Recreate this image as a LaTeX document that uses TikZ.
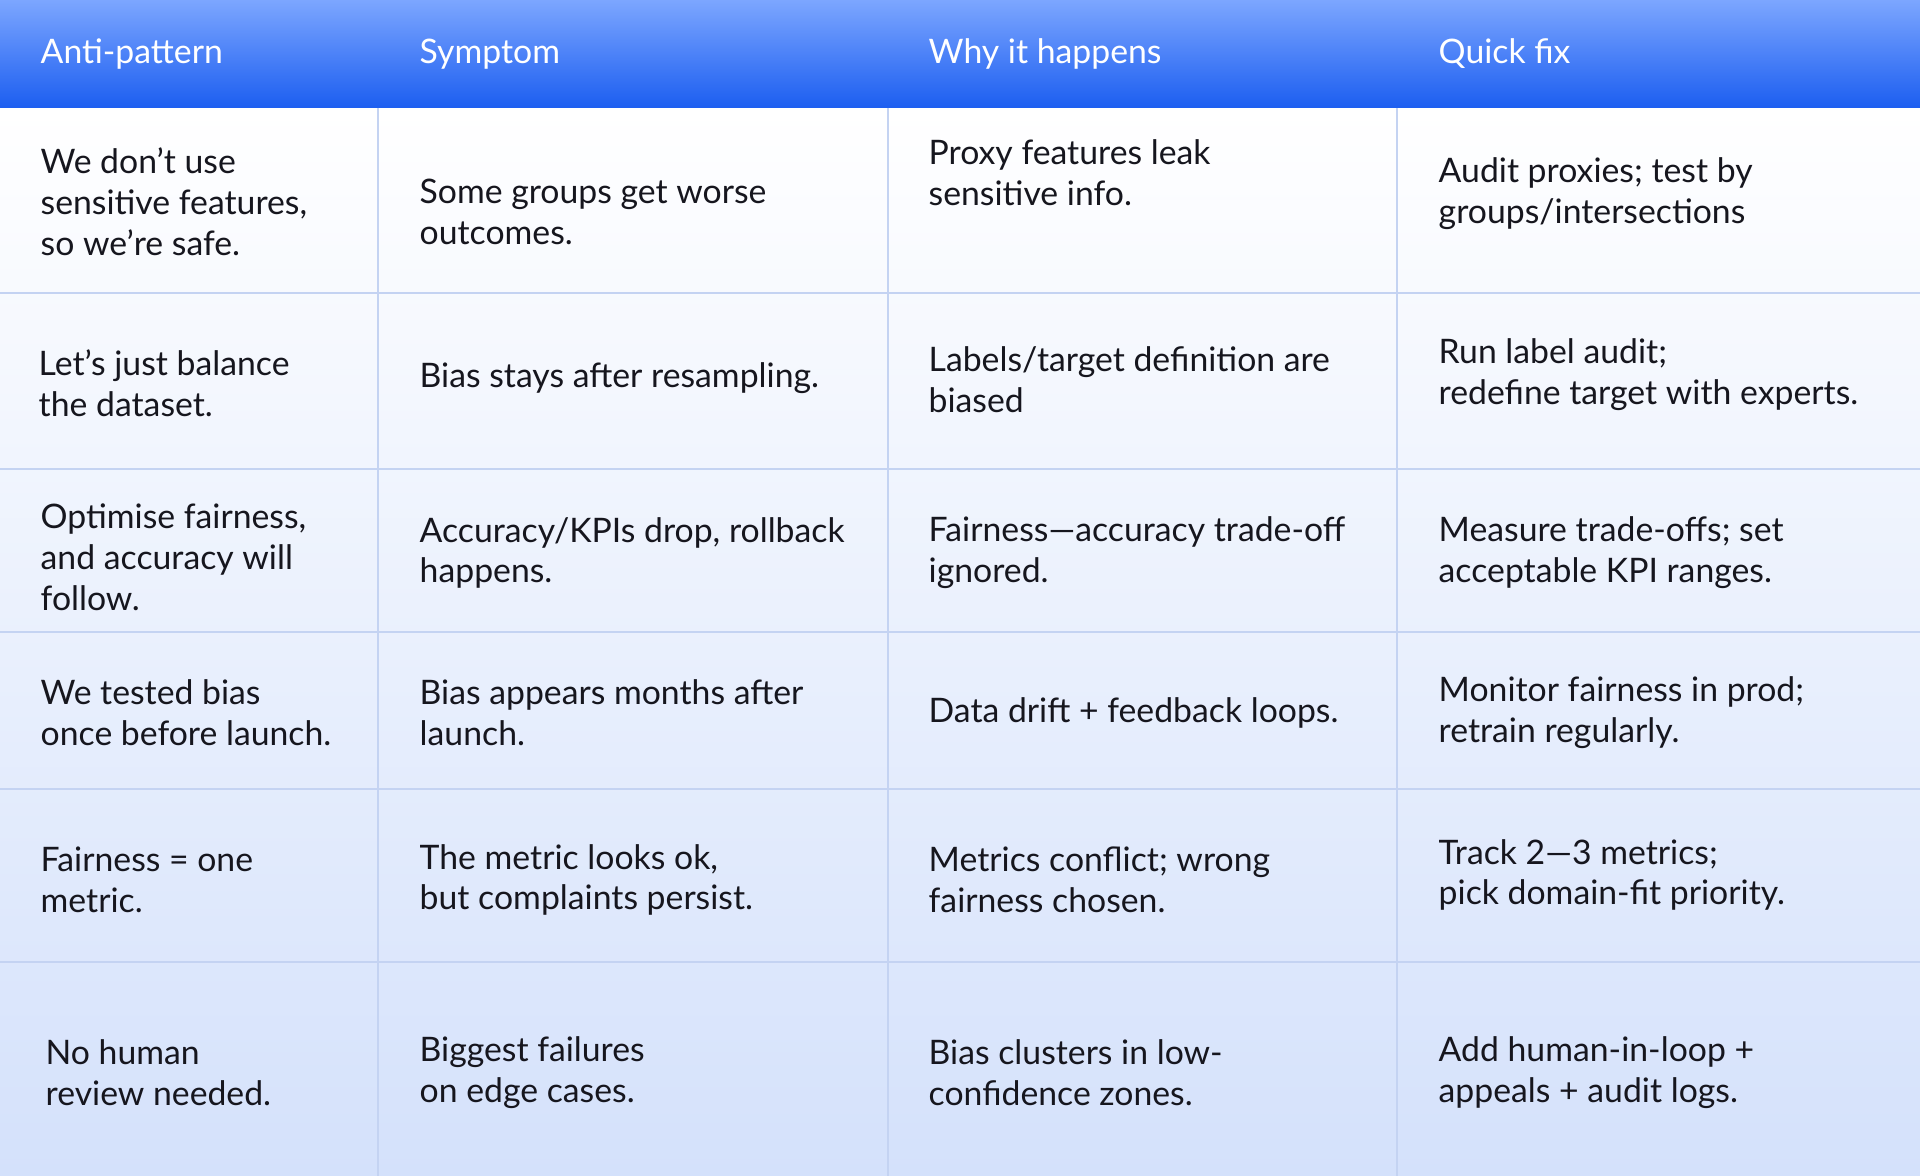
\documentclass[tikz,border=0pt]{standalone}
\usepackage{fontspec}
\setmainfont{Lato}
\begin{document}
\begin{tikzpicture}[x=0.01cm,y=-0.01cm]
    \definecolor{hdtop}{RGB}{124,166,255}
    \definecolor{hdbot}{RGB}{28,94,240}
    \definecolor{bdbot}{RGB}{212,225,251}
    \definecolor{gridln}{RGB}{196,211,242}
    \definecolor{txt}{RGB}{22,22,30}
    \tikzset{cell/.style={anchor=west,align=left,inner sep=0pt,text=txt,font=\fontsize{9.6}{11.6}\selectfont},
             head/.style={anchor=west,inner sep=0pt,text=white,font=\fontsize{9.6}{11.6}\selectfont}}
    \useasboundingbox (0,0) rectangle (1920,1176);
    \shade[top color=white,bottom color=bdbot] (0,108) rectangle (1920,1176);
    \shade[top color=hdtop,bottom color=hdbot] (0,0) rectangle (1920,108);
    % grid
    \foreach \y in {293,469,632,789,962} \draw[gridln,line width=0.6pt] (0,\y) to (1920,\y);
    \foreach \x in {378,888,1397} \draw[gridln,line width=0.6pt] (\x,108) to (\x,1176);
    % header
    \node[head] (h1) at (40,54) {Anti-pattern};
    \node[head] (h2) at (419,54) {Symptom};
    \node[head] (h3) at (928,54) {Why it happens};
    \node[head] (h4) at (1438,54) {Quick fix};
    % row 1
    \node[cell] (a1) at (40,202) {We don’t use\\sensitive features,\\so we’re safe.};
    \node[cell] (b1) at (419,212) {Some groups get worse\\outcomes.};
    \node[cell] (c1) at (928,173) {Proxy features leak\\sensitive info.};
    \node[cell] (d1) at (1438,194) {Audit proxies; test by\\groups/intersections};
    % row 2
    \node[cell] (a2) at (38,383) {Let’s just balance\\the dataset.};
    \node[cell] (b2) at (419,378) {Bias stays after resampling.};
    \node[cell] (c2) at (928,380) {Labels/target definition are\\biased};
    \node[cell] (d2) at (1438,375) {Run label audit;\\redefine target with experts.};
    % row 3
    \node[cell] (a3) at (40,557) {Optimise fairness,\\and accuracy will\\follow.};
    \node[cell] (b3) at (419,553) {Accuracy/KPIs drop, rollback\\happens.};
    \node[cell] (c3) at (928,553) {Fairness—accuracy trade-off\\ignored.};
    \node[cell] (d3) at (1438,553) {Measure trade-offs; set\\acceptable KPI ranges.};
    % row 4
    \node[cell] (a4) at (40,713) {We tested bias\\once before launch.};
    \node[cell] (b4) at (419,713) {Bias appears months after\\launch.};
    \node[cell] (c4) at (928,713) {Data drift + feedback loops.};
    \node[cell] (d4) at (1438,713) {Monitor fairness in prod;\\retrain regularly.};
    % row 5
    \node[cell] (a5) at (40,880) {Fairness = one\\metric.};
    \node[cell] (b5) at (419,880) {The metric looks ok,\\but complaints persist.};
    \node[cell] (c5) at (928,880) {Metrics conflict; wrong\\fairness chosen.};
    \node[cell] (d5) at (1438,875) {Track 2—3 metrics;\\pick domain-fit priority.};
    % row 6
    \node[cell] (a6) at (45,1073) {No human\\review needed.};
    \node[cell] (b6) at (419,1073) {Biggest failures\\on edge cases.};
    \node[cell] (c6) at (928,1073) {Bias clusters in low-\\confidence zones.};
    \node[cell] (d6) at (1438,1073) {Add human-in-loop +\\appeals + audit logs.};
\end{tikzpicture}
\end{document}
